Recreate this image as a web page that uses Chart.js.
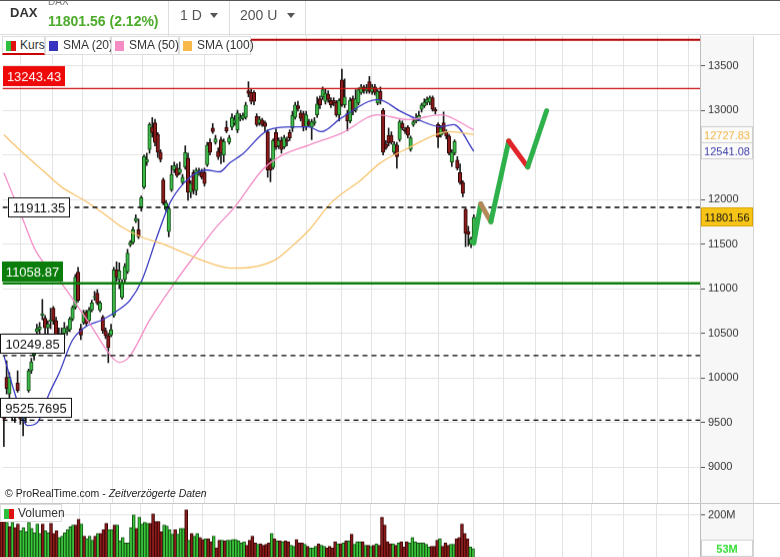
<!DOCTYPE html>
<html>
<head>
<meta charset="utf-8">
<script src="https://cdn.jsdelivr.net/npm/chart.js@4.4.1/dist/chart.umd.min.js"></script>
<style>
body{margin:0;width:780px;height:557px;overflow:hidden;position:relative;background:#fff;font-family:"Liberation Sans",Arial,sans-serif;color:#333;}
.abs{position:absolute;}
#kopf{left:0;top:0;width:780px;height:35px;border-top:1px solid #555;border-bottom:1px solid #ddd;background:#fff;z-index:3;box-sizing:border-box;}
.trennV{position:absolute;top:0;width:1px;height:35px;background:#ddd;}
.pfeil{position:absolute;width:0;height:0;border-left:4px solid transparent;border-right:4px solid transparent;border-top:5px solid #555;}
.leg{position:absolute;top:36px;height:19px;background:#fff;border:1px solid #ddd;box-sizing:border-box;font-size:12px;line-height:17px;z-index:3;white-space:nowrap;}
.ico{position:absolute;top:4px;width:9px;height:10px;}
#achse{left:700px;top:36px;width:53px;height:521px;background:#f7f7f7;border-right:1px solid #d6d6d6;z-index:0;}
#kursBox{left:0;top:36px;width:780px;height:467px;z-index:1;}
#volBox{left:0;top:504px;width:780px;height:56px;z-index:1;}
#copy{left:5px;top:487px;font-size:10.5px;color:#222;z-index:2;}
#trenner{left:0;top:503px;width:780px;height:1px;background:#c8c8c8;z-index:2;}
</style>
</head>
<body>

<div id="kopf" class="abs">
  <div class="abs" style="left:10px;top:4px;font-size:13px;font-weight:bold;line-height:16px;">DAX</div>
  <div class="abs" style="left:48px;top:-5px;font-size:10px;color:#777;line-height:12px;">DAX</div>
  <div class="abs" style="left:48px;top:11px;font-size:14px;font-weight:bold;color:#4dab2b;line-height:18px;">11801.56 (2.12%)</div>
  <div class="trennV" style="left:168px;"></div>
  <div class="abs" style="left:180px;top:5px;font-size:14px;color:#555;line-height:18px;">1 D</div>
  <div class="pfeil" style="left:210px;top:12px;"></div>
  <div class="trennV" style="left:229px;"></div>
  <div class="abs" style="left:240px;top:5px;font-size:14px;color:#555;line-height:18px;">200 U</div>
  <div class="pfeil" style="left:287px;top:12px;"></div>
  <div class="trennV" style="left:305px;"></div>
</div>

<div class="leg" style="left:2px;width:43px;border-bottom:2px solid #c00;">
  <div class="ico" style="left:3px;width:5px;background:#2fbf3f;"></div>
  <div class="ico" style="left:8px;width:5px;background:#e01010;"></div>
  <span class="abs" style="left:17px;">Kurs</span>
</div>
<div class="leg" style="left:45px;width:66px;">
  <div class="ico" style="left:3px;background:#3535c0;"></div>
  <span class="abs" style="left:17px;">SMA (20)</span>
</div>
<div class="leg" style="left:111px;width:68px;">
  <div class="ico" style="left:3px;background:#f58cc4;"></div>
  <span class="abs" style="left:17px;">SMA (50)</span>
</div>
<div class="leg" style="left:179px;width:72px;">
  <div class="ico" style="left:3px;background:#f9b94a;"></div>
  <span class="abs" style="left:17px;">SMA (100)</span>
</div>

<div id="achse" class="abs"></div>
<div id="kursBox" class="abs"><canvas id="kurs"></canvas></div>
<div id="copy" class="abs">© ProRealTime.com - <i>Zeitverzögerte Daten</i></div>
<div id="trenner" class="abs"></div>
<div id="volBox" class="abs"><canvas id="volumen"></canvas></div>
<div class="leg" style="top:504px;left:0;width:62px;height:18px;">
  <div class="ico" style="left:3px;width:5px;background:#2fbf3f;"></div>
  <div class="ico" style="left:8px;width:5px;background:#e01010;"></div>
  <span class="abs" style="left:17px;">Volumen</span>
</div>

<script>
// ==========================================================
// DAX - Tageskerzen mit SMA, Niveaus und Prognose
// ==========================================================

// Kerzen (Index 0 = erste sichtbare Kerze)
const OPEN = [9620,10005,9820,9700,9580,9940,9570,9540,9590,9860,
10080,10250,10520,10540,10700,10670,10560,10630,10780,10640,
10450,10400,10500,10520,10540,10660,10790,11185,10555,10620,
10735,10640,10760,10900,10950,10760,10680,10530,10475,10480,
10700,11210,11100,10900,11100,11190,11490,11520,11760,11660,
11900,12140,12420,12560,12810,12860,12730,12530,12220,11890,
11640,12110,12330,12350,12300,12190,12365,12465,12080,12300,
12100,12300,12310,12300,12390,12640,12800,12640,12540,12670,
12500,12810,12640,12810,12860,12780,12900,12910,12920,13220,
13200,13200,12930,12860,12890,12860,12760,12440,12360,12750,
12600,12660,12590,12670,12750,12800,12920,13050,12970,12960,
12810,12870,12810,12860,12950,13130,13150,13100,13180,13110,
13110,13090,12950,13340,13060,12960,12880,13130,13000,13080,
13200,13260,13220,13320,13210,13260,13080,13210,13000,12620,
12720,12720,12530,12610,12670,12850,12790,12810,12560,12840,
12880,12900,13010,13050,13090,13090,13140,13010,12840,12720,
12860,12760,12710,12420,12520,12440,12300,12190,11890,11640,
11500,11560];

const HIGH = [9700,10190,10060,9740,9660,10080,9600,9620,9640,10100,
10220,10300,10600,10620,10880,10700,10640,10780,10800,10680,
10560,10560,10620,10580,10680,10810,11160,11240,10600,10760,
10760,10790,10870,10970,10990,10860,10700,10560,10500,10600,
11240,11300,11290,11100,11280,11440,11540,11690,11830,11780,
12040,12500,12520,12860,12920,12900,12750,12560,12240,11990,
11920,12380,12420,12400,12420,12280,12600,12520,12210,12330,
12350,12350,12340,12350,12640,12680,12850,12720,12580,12700,
12680,12880,12720,12960,12940,13000,12960,12970,13090,13320,
13240,13220,12960,12930,12910,12880,12780,12460,12680,12790,
12690,12700,12720,12700,12780,12990,13090,13100,13000,12990,
12990,12900,12900,12920,13150,13160,13260,13240,13220,13140,
13140,13110,13130,13460,13350,13000,13140,13160,13230,13250,
13290,13280,13290,13380,13290,13290,13230,13260,13020,12660,
12800,12760,12650,12640,12890,12880,12810,12830,12710,12900,
12960,12990,13080,13130,13150,13160,13160,13030,12860,12830,
12980,12780,12730,12560,12670,12480,12400,12210,11900,11700,
11580,11830];

const LOW = [9230,9820,9780,9520,9500,9840,9480,9350,9500,9840,
10050,10200,10400,10480,10650,10500,10500,10550,10600,10380,
10300,10350,10440,10480,10520,10640,10770,10850,10430,10600,
10590,10620,10740,10870,10820,10740,10500,10440,10170,10460,
10680,11080,11000,10880,11060,11170,11470,11500,11740,11560,
11870,12120,12380,12520,12700,12600,12470,12420,11940,11870,
11580,12090,12300,12250,12280,12170,12340,11990,12020,12060,
12050,12270,12230,12150,12370,12500,12740,12620,12450,12400,
12420,12750,12620,12780,12830,12750,12880,12890,12900,13150,
13070,13060,12820,12830,12820,12760,12250,12200,12340,12560,
12570,12520,12570,12600,12660,12760,12900,12990,12880,12770,
12780,12820,12670,12830,12920,13020,13120,13070,13090,13030,
13050,12930,12880,13040,13030,12770,12860,12950,12980,13060,
13180,13190,13190,13190,13180,13170,13060,13070,12500,12560,
12600,12620,12500,12350,12650,12780,12740,12690,12540,12820,
12860,12880,12980,13030,13060,13060,12990,12960,12580,12700,
12740,12680,12500,12370,12500,12330,12170,12030,11470,11480,
11460,11520];

const CLOSE = [9540,9880,10005,9580,9620,9860,9540,9580,9620,10080,
10180,10270,10550,10570,10720,10560,10600,10650,10640,10450,
10400,10500,10560,10540,10660,10790,11130,10870,10480,10735,
10612,10760,10840,10910,10840,10840,10530,10470,10340,10540,
11210,11130,11200,11070,11250,11400,11520,11660,11790,11580,
12020,12480,12450,12840,12750,12640,12530,12450,11960,11960,
11900,12280,12380,12270,12340,12250,12525,12080,12180,12100,
12330,12320,12250,12180,12610,12530,12760,12680,12480,12520,
12650,12770,12690,12920,12890,12970,12920,12940,13060,13190,
13100,13100,12840,12900,12840,12820,12330,12330,12660,12590,
12660,12560,12690,12650,12690,12940,13060,13020,12910,12810,
12950,12840,12870,12880,13070,13060,13230,13190,13120,13060,
13080,12950,13110,13060,13150,12880,13110,12990,13130,13230,
13260,13220,13250,13210,13260,13200,13210,13120,12530,12580,
12630,12640,12620,12480,12870,12800,12770,12720,12690,12870,
12900,12940,13060,13090,13120,13140,13010,12990,12700,12800,
12760,12710,12520,12530,12650,12350,12190,12070,11620,11610,
11560,11801.56];

// Volumen in Mio.
const VOLUMEN = [175,175,168,148,168,145,160,130,145,126,
168,141,121,160,119,160,130,121,163,119,
130,101,107,121,136,148,156,156,181,160,
107,96,107,89,107,119,119,136,163,136,
136,156,156,86,101,77,77,145,200,141,
190,160,168,163,163,205,171,171,126,156,
151,136,116,136,116,141,141,222,89,119,
107,119,101,92,96,96,82,107,56,89,
89,86,89,89,92,92,86,77,82,
67,89,107,77,71,74,67,71,77,
119,96,86,86,82,86,82,67,62,92,
77,77,71,62,56,56,62,74,67,
62,56,62,56,82,74,74,77,86,
86,116,71,82,82,82,67,67,62,67,
74,67,190,156,82,74,74,67,77,82,
59,82,77,101,82,77,77,77,71,
59,62,62,89,96,62,77,67,71,
71,96,101,160,119,96,59,52];

const SMA20_IDX = [0,4,8.6,12.2,16.5,20.2,24.9,29.6,35.8,43,45.9,50.3,55.7,60.4,65.5,70.2,73.8,78.5,82.2,86.5,96.3,104.6,110.8,115.5,122.8,136.2,144.5,150.7,159,163.7,171];
const SMA20_WERT = [10250,9825,9465,9500,9825,10060,10420,10570,10650,10790,10870,11100,11580,11960,12185,12300,12330,12310,12410,12500,12780,12815,12815,12760,12915,13120,12985,12895,12815,12840,12541.08];

const SMA50_IDX = [0,7,11.5,21,32,39.4,42,45.5,53,62,69.5,77,84,94,100,111,123,136,147,159,171];
const SMA50_WERT = [12300,11770,11430,11060,10570,10230,10175,10230,10645,11060,11375,11680,11915,12330,12475,12610,12745,12950,12895,12950,12780];

const SMA100_IDX = [0,7,14,21,29,36,43,50,57,65,72,83,90,98.5,105,111,119,130,137,148,157,162,171];
const SMA100_WERT = [12725,12520,12330,12140,11995,11850,11690,11580,11510,11410,11320,11230,11240,11320,11480,11655,11960,12220,12410,12590,12725,12760,12727.83];

// Horizontale Niveaus
const NIVEAU_WERT = [13790, 13243.43, 11911.35, 11058.87, 10249.85, 9525.7695];
const NIVEAU_TEXT = ["", "13243.43", "11911.35", "11058.87", "10249.85", "9525.7695"];

// Prognose-Pfad (rechts neben der letzten Kerze)
const PROGNOSE_IDX = [171, 173.5, 177.2, 183.7, 190.6, 197.5];
const PROGNOSE_WERT = [11510, 11950, 11750, 12655, 12365, 12995];

// Achsen
const Y_TICKS = [9000, 9500, 10000, 10500, 11000, 11500, 12000, 12500, 13000, 13500];
const VOL_TICKS = [200];
const GITTER_X = [6.0,17.6,28.5,39.4,50.3,61.9,73.1,84.7,99.2,110.1,122.8,133.7,146.3,158.0,171.0,181.9,193.5,203.3,214.1,225.4,237.7,249.0];

// Letzte Werte (Boxen an der rechten Achse)
const LETZTE_WERT = [12727.83, 12541.08, 11801.56];
const VOL_LETZTER = 53;

// ==========================================================
// Farben / Stile
// ==========================================================

const FARBEN = {
    gruen: "#3dbb4a",
    gruenRand: "#174d17",
    rot: "#8b1a1a",
    rotRand: "#2e0606",
    docht: "#1b1b1b",
    sma20: "#3a3ac4",
    sma50: "#f38cc6",
    sma100: "#f8c46e",
    gitter: "#e3e3e3"
};

const NIVEAU_STIL = [
    {linie:"#b40000", breite:2, dash:[]},
    {linie:"#cc1010", breite:1.2, dash:[], box:"#ee0808", schrift:"#fff", x:3, w:62, lage:"ueber"},
    {linie:"#000", breite:1.3, dash:[5,4], box:"#fff", rand:"#111", schrift:"#111", x:8, w:62, lage:"mitte"},
    {linie:"#0b7d0b", breite:2.5, dash:[], box:"#0b7d0b", schrift:"#fff", x:2, w:61, lage:"ueber"},
    {linie:"#000", breite:1.3, dash:[5,4], box:"#fff", rand:"#111", schrift:"#111", x:0, w:65, lage:"ueber"},
    {linie:"#000", breite:1.3, dash:[5,4], box:"#fff", rand:"#111", schrift:"#111", x:0, w:72, lage:"ueber"}
];

const WERT_STIL = [
    {box:"#fbfbfb", rand:"#cfcfcf", schrift:"#f4b544", h:17},
    {box:"#fbfbfb", rand:"#cfcfcf", schrift:"#3c3ca8", h:17},
    {box:"#f6c416", rand:"#d9a400", schrift:"#111", h:19}
];

const PROGNOSE_FARBEN = ["#2eb04b", "#b4895a", "#2eb04b", "#e02429", "#2eb04b"];

const X_MIN = -0.5;
const X_MAX = 253.3;

Chart.defaults.font.family = '"Liberation Sans", Arial, sans-serif';
Chart.defaults.color = "#333";

const steigt = CLOSE.map((c, i) => c >= OPEN[i]);

// ==========================================================
// PLUGIN: Beschriftungsboxen
// ==========================================================

const boxPlugin = {

    id: "boxen",

    afterDraw(chart){

        const cfg = chart.options.plugins.boxen;
        if(!cfg) return;

        const {ctx} = chart;
        const y = chart.scales.y;

        ctx.save();
        ctx.textAlign = "center";
        ctx.textBaseline = "middle";

        (cfg.links || []).forEach(b=>{
            const py = Math.round(y.getPixelForValue(b.wert));
            const h = 20;
            const top = b.lage === "mitte" ? py - h/2 : py - h - 2;
            ctx.fillStyle = b.box;
            ctx.fillRect(b.x, top, b.w, h);
            if(b.rand){
                ctx.strokeStyle = b.rand;
                ctx.lineWidth = 1;
                ctx.strokeRect(b.x + 0.5, top + 0.5, b.w - 1, h - 1);
            }
            ctx.font = '13px "Liberation Sans", Arial';
            ctx.fillStyle = b.schrift;
            ctx.fillText(b.text, b.x + b.w/2, top + h/2 + 1);
        });

        (cfg.rechts || []).forEach(b=>{
            const py = y.getPixelForValue(b.wert);
            const top = Math.round(py - b.h/2);
            const x0 = chart.chartArea.right + 1;
            ctx.fillStyle = b.box;
            ctx.fillRect(x0, top, 52, b.h);
            ctx.strokeStyle = b.rand;
            ctx.lineWidth = 1;
            ctx.strokeRect(x0 + 0.5, top + 0.5, 51, b.h - 1);
            ctx.font = (b.fett ? "bold " : "") + '11px "Liberation Sans", Arial';
            ctx.fillStyle = b.schrift;
            ctx.fillText(b.text, x0 + 26, top + b.h/2 + 1);
        });

        ctx.restore();
    }
};

// ==========================================================
// Gemeinsame Achsenoptionen
// ==========================================================

function xAchse(){
    return {
        type:"linear",
        min:X_MIN,
        max:X_MAX,
        offset:false,
        afterBuildTicks: s => { s.ticks = GITTER_X.map(v=>({value:v})); },
        ticks:{display:false},
        grid:{color:FARBEN.gitter, drawTicks:false, offset:false},
        border:{display:false}
    };
}

function yAchse(min, max, ticks, format){
    return {
        position:"right",
        min:min,
        max:max,
        beginAtZero:false,
        afterBuildTicks: s => { s.ticks = ticks.map(v=>({value:v})); },
        afterFit: s => { s.width = 80; },
        ticks:{color:"#333", font:{size:11}, padding:3, callback:format},
        grid:{color:FARBEN.gitter, tickLength:5, tickColor:"#555"},
        border:{color:"#bdbdbd"}
    };
}

// Canvas so verschieben, dass die Zeichenfläche genau sitzt
function einpassen(chart, box, oben, hoehe){
    const ca = chart.chartArea;
    const padOben = ca.top;
    const padUnten = chart.height - ca.bottom;
    box.style.top = (oben - padOben) + "px";
    box.style.height = (hoehe + padOben + padUnten) + "px";
    chart.resize();
}

// ==========================================================
// KURSCHART
// ==========================================================

const linienDatasets = [
    {idx:SMA100_IDX, wert:SMA100_WERT, farbe:FARBEN.sma100},
    {idx:SMA50_IDX, wert:SMA50_WERT, farbe:FARBEN.sma50},
    {idx:SMA20_IDX, wert:SMA20_WERT, farbe:FARBEN.sma20}
].map(s=>({
    type:"line",
    data:s.idx.map((x,i)=>({x:x, y:s.wert[i]})),
    borderColor:s.farbe,
    borderWidth:1.3,
    pointRadius:0,
    cubicInterpolationMode:"monotone",
    order:1
}));

const niveauDatasets = NIVEAU_WERT.map((v,i)=>({
    type:"line",
    data:[{x:X_MIN, y:v}, {x:X_MAX, y:v}],
    borderColor:NIVEAU_STIL[i].linie,
    borderWidth:NIVEAU_STIL[i].breite,
    borderDash:NIVEAU_STIL[i].dash,
    pointRadius:0,
    order:1
}));

const kursChart = new Chart(document.getElementById("kurs"),{

    type:"bar",

    data:{
        datasets:[
            {
                data:CLOSE.map((c,i)=>({x:i, y:[LOW[i], HIGH[i]]})),
                backgroundColor:FARBEN.docht,
                barThickness:1,
                grouped:false,
                order:3
            },
            {
                data:CLOSE.map((c,i)=>({x:i, y:[OPEN[i], c]})),
                backgroundColor:steigt.map(s=>s ? FARBEN.gruen : FARBEN.rot),
                borderColor:steigt.map(s=>s ? FARBEN.gruenRand : FARBEN.rotRand),
                borderWidth:1,
                borderSkipped:false,
                barThickness:3.5,
                grouped:false,
                order:2
            },
            ...niveauDatasets,
            ...linienDatasets,
            {
                type:"line",
                data:PROGNOSE_IDX.map((x,i)=>({x:x, y:PROGNOSE_WERT[i]})),
                borderWidth:5,
                borderCapStyle:"round",
                borderJoinStyle:"round",
                pointRadius:0,
                segment:{ borderColor: c => PROGNOSE_FARBEN[c.p0DataIndex] },
                borderColor:PROGNOSE_FARBEN[0],
                order:0
            }
        ]
    },

    options:{
        responsive:true,
        maintainAspectRatio:false,
        animation:false,
        events:[],
        layout:{padding:0},
        plugins:{
            legend:{display:false},
            tooltip:{enabled:false},
            boxen:{
                links:NIVEAU_TEXT.map((t,i)=>({...NIVEAU_STIL[i], wert:NIVEAU_WERT[i], text:t})).filter(b=>b.text),
                rechts:LETZTE_WERT.map((v,i)=>({...WERT_STIL[i], wert:v, text:String(v)}))
            }
        },
        scales:{
            x:xAchse(),
            y:yAchse(8590, 13837, Y_TICKS, v=>v)
        }
    },

    plugins:[boxPlugin]

});

einpassen(kursChart, document.getElementById("kursBox"), 36, 467);

// ==========================================================
// VOLUMENCHART
// ==========================================================

const volChart = new Chart(document.getElementById("volumen"),{

    type:"bar",

    data:{
        datasets:[{
            data:VOLUMEN.map((v,i)=>({x:i, y:v})),
            backgroundColor:steigt.map(s=>s ? "#39c639" : "#8e1b1b"),
            borderColor:steigt.map(s=>s ? "#145214" : "#3a0808"),
            borderWidth:1,
            barThickness:3,
            grouped:false
        }]
    },

    options:{
        responsive:true,
        maintainAspectRatio:false,
        animation:false,
        events:[],
        layout:{padding:0},
        plugins:{
            legend:{display:false},
            tooltip:{enabled:false},
            boxen:{
                rechts:[{box:"#fff", rand:"#cfcfcf", schrift:"#33dd33", h:17, fett:true, wert:VOL_LETZTER, text:VOL_LETZTER + "M"}]
            }
        },
        scales:{
            x:xAchse(),
            y:yAchse(0, 249, VOL_TICKS, v=>v + "M")
        }
    },

    plugins:[boxPlugin]

});

einpassen(volChart, document.getElementById("volBox"), 504, 56);
</script>
</body>
</html>
